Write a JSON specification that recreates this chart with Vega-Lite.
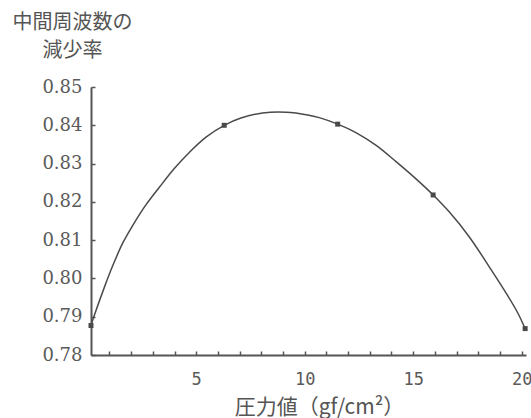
{
  "$schema": "https://vega.github.io/schema/vega-lite/v6.json",
  "width": 435,
  "height": 268,
  "autosize": {"type": "none"},
  "padding": {"left": 91, "top": 87, "right": 5, "bottom": 63},
  "background": "white",
  "datasets": {
    "curve": [
      {"p": 0.15, "r": 0.7877}, {"p": 0.30, "r": 0.7903}, {"p": 0.76, "r": 0.7976}, {"p": 1.15, "r": 0.8033},
      {"p": 1.61, "r": 0.8092}, {"p": 2.07, "r": 0.8138}, {"p": 2.68, "r": 0.8192}, {"p": 3.30, "r": 0.8238},
      {"p": 3.99, "r": 0.8287}, {"p": 4.68, "r": 0.8329}, {"p": 5.45, "r": 0.8369}, {"p": 6.29, "r": 0.8400},
      {"p": 7.06, "r": 0.8419}, {"p": 8.06, "r": 0.8432}, {"p": 9.14, "r": 0.8434}, {"p": 10.14, "r": 0.8427},
      {"p": 10.67, "r": 0.8420}, {"p": 11.52, "r": 0.8403}, {"p": 12.36, "r": 0.8381}, {"p": 13.28, "r": 0.8348},
      {"p": 14.21, "r": 0.8305}, {"p": 15.13, "r": 0.8260}, {"p": 15.92, "r": 0.8218}, {"p": 16.66, "r": 0.8174},
      {"p": 17.58, "r": 0.8109}, {"p": 18.50, "r": 0.8031}, {"p": 19.27, "r": 0.7963}, {"p": 19.81, "r": 0.7911},
      {"p": 20.16, "r": 0.7869}
    ],
    "pts": [
      {"p": 0.15, "r": 0.7877}, {"p": 6.29, "r": 0.8400}, {"p": 11.52, "r": 0.8403}, {"p": 15.92, "r": 0.8218}, {"p": 20.16, "r": 0.7869}
    ]
  },
  "config": {
    "view": {"stroke": null},
    "axis": {"grid": false, "domainColor": "#555", "domainWidth": 2, "tickColor": "#555", "tickWidth": 1.5, "labelColor": "#5a5a5a", "titleColor": "#555", "titleFontWeight": "normal"}
  },
  "encoding": {
    "x": {"field": "p", "type": "quantitative", "scale": {"domain": [0.15, 20.2], "nice": false, "zero": false},
      "axis": {"values": [1,2,3,4,5,6,7,8,9,10,11,12,13,14,15,16,17,18,19,20], "labelExpr": "datum.value % 5 === 0 ? datum.label : ''",
        "labelOverlap": false,
        "tickSize": -4, "labelPadding": 20, "labelFont": "DejaVu Sans Mono", "labelFontSize": 17, "labelFlush": false,
        "title": "圧力値（gf/cm²）", "titleFont": "Noto Sans CJK JP", "titleFontSize": 21, "titleX": 228, "titleY": 58, "titleBaseline": "alphabetic", "titleAlign": "center"}},
    "y": {"field": "r", "type": "quantitative", "scale": {"domain": [0.78, 0.85], "nice": false, "zero": false},
      "axis": {"values": [0.78,0.79,0.80,0.81,0.82,0.83,0.84,0.85], "format": ".2f", "tickSize": -4, "labelPadding": 13,
        "labelOverlap": false,
        "labelFont": "DejaVu Serif", "labelFontSize": 18,
        "title": ["中間周波数の", "減少率"], "titleFont": "Noto Sans CJK JP", "titleFontSize": 20, "titleAngle": 0,
        "titleX": -19, "titleY": -59, "titleAlign": "center", "titleBaseline": "alphabetic", "titleLineHeight": 28}}
  },
  "layer": [
    {
      "data": {"name": "curve"},
      "mark": {"type": "line", "interpolate": "catmull-rom", "color": "#4a4a4a", "strokeWidth": 1.5}
    },
    {
      "data": {"name": "pts"},
      "mark": {"type": "point", "shape": "square", "filled": true, "size": 25, "color": "#4a4a4a", "opacity": 1}
    }
  ]
}
